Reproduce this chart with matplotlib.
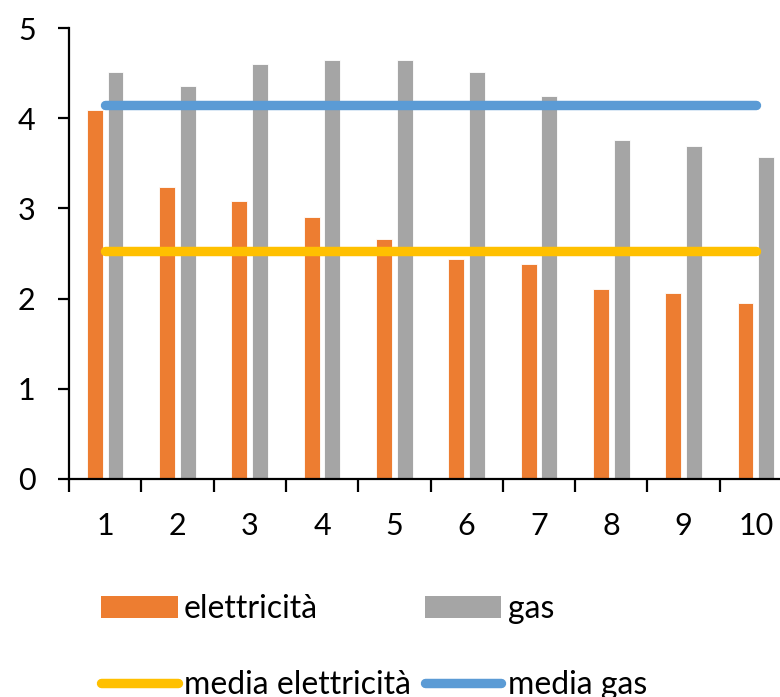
import matplotlib
matplotlib.use("Agg")
import matplotlib.pyplot as plt
from matplotlib.patches import Patch
from matplotlib.lines import Line2D
import numpy as np

plt.rcParams['font.family'] = ['Lato', 'DejaVu Sans']

categories = [1, 2, 3, 4, 5, 6, 7, 8, 9, 10]
elettricita = [4.09, 3.24, 3.08, 2.90, 2.66, 2.44, 2.38, 2.11, 2.06, 1.95]
gas = [4.51, 4.36, 4.60, 4.64, 4.64, 4.51, 4.25, 3.76, 3.69, 3.57]
media_elettricita = [2.53] * 10
media_gas = [4.15] * 10
y_ticks = [0, 1, 2, 3, 4, 5]

c_el = '#ED7D31'
c_gas = '#A5A5A5'
c_mel = '#FFC000'
c_mgas = '#5B9BD5'

W, H = 780, 697
fig = plt.figure(figsize=(W / 100, H / 100), dpi=100)
ax = fig.add_axes([69 / W, (H - 479) / H, 723 / W, 451 / H])

x = np.array(categories, dtype=float)
bw = 0.22
off = 0.143
ax.bar(x - off, elettricita, width=bw, color=c_el, edgecolor='white', linewidth=0.6, zorder=2)
ax.bar(x + off, gas, width=bw, color=c_gas, edgecolor='white', linewidth=0.6, zorder=2)
ax.plot(x, media_elettricita, color=c_mel, lw=6.8, solid_capstyle='round', zorder=3)
ax.plot(x, media_gas, color=c_mgas, lw=6.8, solid_capstyle='round', zorder=3)

ax.set_xlim(0.5, 10.5)
ax.set_ylim(0, 5)
ax.set_yticks(y_ticks)
ax.set_yticklabels([str(t) for t in y_ticks])
ax.set_xticks(x)
ax.set_xticklabels([str(c) for c in categories])
ax.set_xticks(np.arange(0.5, 10.6, 1.0), minor=True)

for s in ['top', 'right']:
    ax.spines[s].set_visible(False)
for s in ['left', 'bottom']:
    ax.spines[s].set_linewidth(1.6)
    ax.spines[s].set_color('black')

ax.tick_params(axis='y', direction='out', length=8, width=1.6, pad=16, labelsize=22)
ax.tick_params(axis='x', which='major', length=0, pad=24, labelsize=22)
ax.tick_params(axis='x', which='minor', direction='out', length=9, width=1.6)

handles = [
    Patch(facecolor=c_el, edgecolor='none', label='elettricità'),
    Line2D([0], [0], color=c_mel, lw=6.8, solid_capstyle='round', label='media elettricità'),
    Patch(facecolor=c_gas, edgecolor='none', label='gas'),
    Line2D([0], [0], color=c_mgas, lw=6.8, solid_capstyle='round', label='media gas'),
]
fig.legend(handles=handles, ncol=2, loc='upper left',
           bbox_to_anchor=(101 / W, 1 - 594 / H), frameon=False,
           fontsize=23, handlelength=2.4, handleheight=0.7,
           handletextpad=0.19, columnspacing=0.44, labelspacing=1.44,
           borderaxespad=0, borderpad=0)

fig.savefig('out.png', dpi=100)
